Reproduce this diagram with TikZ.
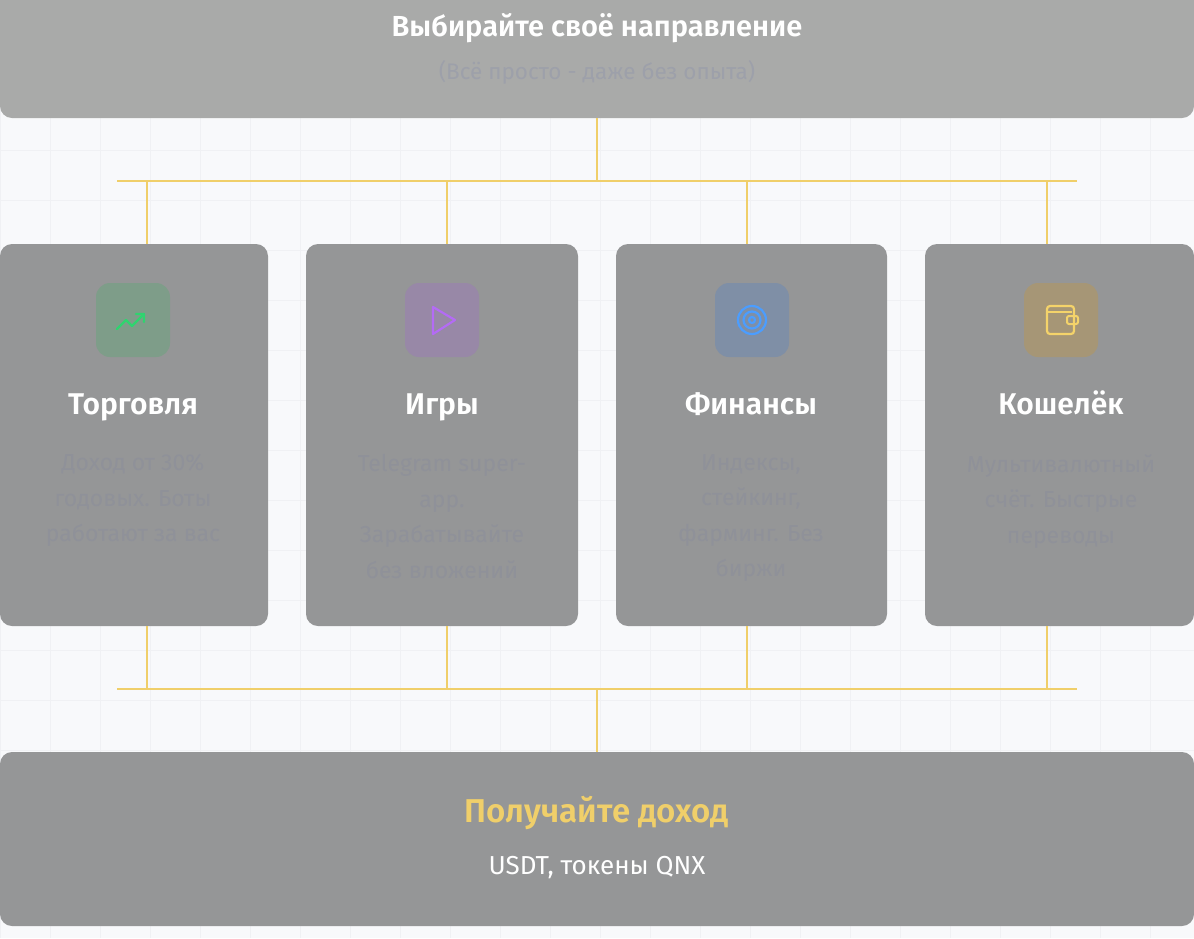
\documentclass[tikz,border=0pt]{standalone}
\usepackage{fontspec}
\setmainfont{Fira Sans}[BoldFont={Fira Sans SemiBold}]
\definecolor{bg}{HTML}{F8F9FB}
\definecolor{gridc}{HTML}{F0F1F4}
\definecolor{topc}{HTML}{A9AAA9}
\definecolor{cardc}{HTML}{959697}
\definecolor{linec}{HTML}{F0CF6A}
\definecolor{faint}{HTML}{8F9199}
\definecolor{subc}{HTML}{9DA0AA}
\definecolor{bx1}{HTML}{7E9D89}
\definecolor{bx2}{HTML}{9888A7}
\definecolor{bx3}{HTML}{7F8FA6}
\definecolor{bx4}{HTML}{A69676}
\definecolor{ig}{HTML}{2FD46F}\definecolor{ip}{HTML}{B46BF5}
\definecolor{ib}{HTML}{4B9DFF}\definecolor{iy}{HTML}{F4D36A}
\begin{document}
\begin{tikzpicture}[x=1pt,y=-1pt,
  card/.style={fill=cardc,rounded corners=12pt},
  conn/.style={draw=linec,line width=2pt},
  ttl/.style={text=white,font=\bfseries\fontsize{30}{34}\selectfont,text height=22pt,text depth=7pt},
  desc/.style={text=faint,font=\fontsize{23}{35.5}\selectfont,align=center},
  iconbox/.style={rounded corners=14pt,minimum width=74pt,minimum height=74pt,inner sep=0pt}]
\useasboundingbox (0,0) rectangle (1194,938);
\fill[bg] (0,0) rectangle (1194,938);
\draw[gridc,line width=0.6pt] (0,0) grid[step=50pt] (1194,938);
% top
\fill[topc,rounded corners=12pt] (0,-20) rectangle (1194,118);
\node[text=white,font=\bfseries\fontsize{29}{32}\selectfont] (title) at (597,28) {Выбирайте своё направление};
\node[text=subc,font=\fontsize{22.5}{26}\selectfont] (sub) at (597,72) {(Всё просто - даже без опыта)};
\coordinate (topb) at (597,118);
% cards
\foreach \a/\b in {0/268,306/578,616/887,925/1194}{
  \fill[card] (\a,244) rectangle (\b,626);
}
\coordinate (c1t) at (147,244); \coordinate (c2t) at (447,244);
\coordinate (c3t) at (747,244); \coordinate (c4t) at (1047,244);
\coordinate (c1b) at (147,626); \coordinate (c2b) at (447,626);
\coordinate (c3b) at (747,626); \coordinate (c4b) at (1047,626);
\coordinate (hl) at (117,181); \coordinate (hr) at (1077,181);
\coordinate (bl) at (117,689); \coordinate (br) at (1077,689);
\draw[conn] (topb) -- (597,181);
\draw[conn] (hl) -- (hr);
\foreach \c in {c1t,c2t,c3t,c4t} \draw[conn] (\c) -- (\c |- hl);
\foreach \c in {c1b,c2b,c3b,c4b} \draw[conn] (\c) -- (\c |- bl);
\draw[conn] (bl) -- (br);
\draw[conn] (597,689) -- (597,752);
% icons
\node[iconbox,fill=bx1] (i1) at (133,320) {};
\node[iconbox,fill=bx2] (i2) at (442,320) {};
\node[iconbox,fill=bx3] (i3) at (752,320) {};
\node[iconbox,fill=bx4] (i4) at (1061,320) {};
\draw[ig,line width=2.2pt,line cap=round,line join=round] (117,329) -- ++(9,-9) -- ++(6,6) -- ++(12,-12) ++(-8,0) -- ++(8,0) -- ++(0,8);
\draw[ip,line width=2.2pt,line join=round] (433,307) -- (455,320) -- (433,334) -- cycle;
\draw[ib,line width=2.2pt] (752,320) circle (14pt) circle (8.5pt) circle (3pt);
\draw[iy,line width=2.2pt,rounded corners=3pt] (1047,306) rectangle (1074,334);
\draw[iy,line width=2.2pt] (1047,312) -- (1072,312);
\draw[iy,line width=2pt,rounded corners=2pt] (1067,316) rectangle (1078,324);
% titles
\node[ttl] (t1) at (133,407) {Торговля};
\node[ttl] (t2) at (442,407) {Игры};
\node[ttl] (t3) at (751,407) {Финансы};
\node[ttl] (t4) at (1061,407) {Кошелёк};
\node[desc,anchor=north] (d1) at (133,451) {Доход от 30\%\\годовых. Боты\\работают за вас};
\node[desc,anchor=north] (d2) at (442,451) {Telegram super-\\app.\\Зарабатывайте\\без вложений};
\node[desc,anchor=north] (d3) at (751,451) {Индексы,\\стейкинг,\\фарминг. Без\\биржи};
\node[desc,anchor=north] (d4) at (1061,451) {Мультивалютный\\счёт. Быстрые\\переводы};
% bottom
\fill[card] (0,752) rectangle (1194,926);
\node[text=linec,font=\bfseries\fontsize{33}{36}\selectfont] (inc) at (597,813) {Получайте доход};
\node[text=white,font=\fontsize{26}{30}\selectfont] (usdt) at (597,868) {USDT, токены QNX};
\end{tikzpicture}
\end{document}
